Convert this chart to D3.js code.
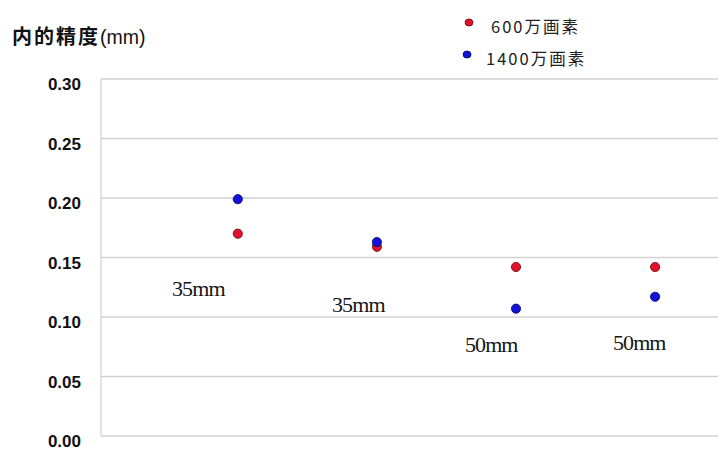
<!DOCTYPE html>
<html><head><meta charset="utf-8">
<script src="https://cdn.jsdelivr.net/npm/d3@7"></script>
<style>body{margin:0;background:#fff}svg{display:block}</style>
</head><body>
<script>
const categories = [1, 2, 3, 4];
const seriesNames = ["600万画素", "1400万画素"];
const values600 = [0.170, 0.159, 0.142, 0.142];
const values1400 = [0.199, 0.163, 0.107, 0.117];
const yTicks = [0, 0.05, 0.10, 0.15, 0.20, 0.25, 0.30];
const labelTexts = ["35mm", "35mm", "50mm", "50mm"];
const labelPosX = [0.527, 1.677, 2.633, 3.697];
const labelPosY = [0.118, 0.104, 0.071, 0.072];
const colors = ["#e3122c", "#1212d8"];
const strokes = ["#6a0000", "#000066"];

const W = 718, H = 449;
const svg = d3.select("body").append("svg").attr("width", W).attr("height", H);
const x = d3.scaleLinear().domain([0, 1]).range([98.7, 237.8]);
const y = d3.scaleLinear().domain([0, 0.30]).range([436, 79]);

// gridlines
svg.append("g").selectAll("line").data(yTicks).join("line")
  .attr("x1", 101).attr("x2", W).attr("y1", d => y(d)).attr("y2", d => y(d))
  .attr("stroke", "#d2d2d2").attr("stroke-width", 1.5);
// left axis line
svg.append("line").attr("x1", 101).attr("x2", 101).attr("y1", y(0.30)).attr("y2", y(0))
  .attr("stroke", "#c8c8c8").attr("stroke-width", 1);

// y axis labels
const yAxis = d3.axisLeft(y).tickValues(yTicks).tickFormat(d3.format(".2f")).tickSize(0).tickPadding(20);
const ga = svg.append("g").attr("transform", "translate(101,0)").call(yAxis);
ga.select(".domain").remove();
ga.selectAll("text").attr("font-family", "Liberation Sans, Arial, sans-serif")
  .attr("font-size", 17).attr("font-weight", "bold").attr("fill", "#111")
  .attr("dy", "0.64em");

// title
const title = svg.append("text").attr("x", 12).attr("y", 44).attr("fill", "#111");
title.append("tspan").attr("font-family", "Noto Sans CJK JP, sans-serif").attr("font-size", 20)
  .attr("letter-spacing", 2).attr("font-weight", "bold").text("内的精度");
title.append("tspan").attr("font-family", "Liberation Sans, sans-serif").attr("font-size", 19.5)
  .attr("font-weight", "normal").text("(mm)");

// labels
svg.append("g").selectAll("text").data(labelTexts).join("text")
  .attr("x", (d, i) => x(labelPosX[i])).attr("y", (d, i) => y(labelPosY[i]))
  .text(d => d).attr("font-family", "Liberation Serif, Times New Roman, serif")
  .attr("font-size", 22).attr("letter-spacing", -0.9).attr("fill", "#151515");

// points
[values600, values1400].forEach((vals, s) => {
  svg.append("g").selectAll("circle").data(vals).join("circle")
    .attr("cx", (d, i) => x(categories[i])).attr("cy", d => y(d)).attr("r", 4.6)
    .attr("fill", colors[s]).attr("stroke", strokes[s]).attr("stroke-width", 0.8);
});

// legend
const lg = svg.append("g");
const legX = [469, 467], legTX = [491, 486], legY = [22.5, 54.5];
seriesNames.forEach((n, s) => {
  lg.append("ellipse").attr("cx", legX[s]).attr("cy", legY[s]).attr("rx", 4).attr("ry", 3.5)
    .attr("fill", colors[s]).attr("stroke", strokes[s]).attr("stroke-width", 0.8);
  lg.append("text").attr("x", legTX[s]).attr("y", legY[s] + 10.5).text(n)
    .attr("font-family", "Noto Sans CJK JP, sans-serif").attr("font-size", 16.5)
    .attr("letter-spacing", 2).attr("fill", "#222");
});
</script>
</body></html>
